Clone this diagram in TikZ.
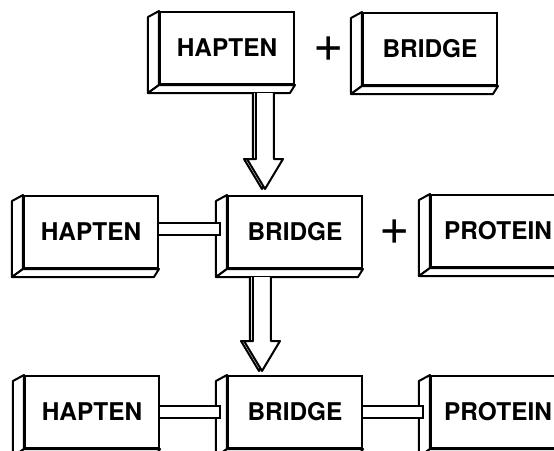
\documentclass[tikz,border=0pt]{standalone}
\usepackage{fontspec}
\setmainfont{TeX Gyre Heros}
\usetikzlibrary{calc}

\tikzset{
  block/.style = {draw, fill=white, line width=1pt, minimum width=67pt, minimum height=36pt,
                  inner sep=0pt, font=\fontsize{12.2}{13}\selectfont\bfseries},
  face/.style  = {draw, fill=white, line width=1pt, line join=round},
  rod/.style   = {line width=1pt},
  plus/.style  = {font=\fontsize{26}{26}\selectfont, inner sep=0pt},
}

\begin{document}
\begin{tikzpicture}[x=0.5pt, y=-0.5pt]

    \useasboundingbox (0,0) rectangle (554,451);
    \clip (0,0) rectangle (554,451);

    % row 1
    \node [block] (h1) at (227,48) {HAPTEN};
    \node [plus] (pl1) at (329,49) {+};
    \node [block] (b1) at (430,49) {BRIDGE};

    % row 2
    \node [block] (h2) at (91,232) {HAPTEN};
    \node [block] (b2) at (295,232) {BRIDGE};
    \node [plus] (pl2) at (395,232) {+};
    \node [block] (p2) at (498,231) {PROTEIN};

    % row 3
    \node [block] (h3) at (92,412) {HAPTEN};
    \node [block] (b3) at (295,412) {BRIDGE};
    \node [block] (p3) at (498,412) {PROTEIN};

    % side faces
    \foreach \b in {h1,b1,h2,b2,p2,h3,b3,p3} {
        \draw [face] (\b.north west) -- ([shift={(-11,6)}]\b.north west)
            -- ([shift={(-11,8)}]\b.south west) -- (\b.south west) -- cycle;
        \draw [face] (\b.south west) -- ([shift={(-11,8)}]\b.south west)
            -- ([shift={(-5,8)}]\b.south east) -- (\b.south east) -- cycle;
    }

    % rods
    \foreach \a/\c/\dy in {h2/b2/-3, h3/b3/0, b3/p3/0} {
        \fill [white] ([shift={(0,\dy-6)}]\a.east) rectangle ([shift={(-7,\dy+6)}]\c.west);
        \draw [rod] ([shift={(0,\dy-6)}]\a.east) -| ([shift={(-7,\dy+6)}]\c.west)
            -- ([shift={(0,\dy+6)}]\a.east);
    }

    % arrows
    \coordinate (a1) at ($(h1.south east)+(-30,8)$);
    \coordinate (a2) at ($(b2.south west)+(35,8)$);
    \foreach \t/\l in {a1/96, a2/94} {
        \begin{scope}[shift={(\t)}]
            \draw [face] (-12,0) -- (-12,\l-30) -- (-21,\l-30) -- (-3,\l) -- (15,\l-30) -- (6,\l-30) -- (6,0);
            \draw [face] (-9,0) -- (-9,\l-30) -- (-18,\l-30) -- (0,\l) -- (18,\l-30) -- (9,\l-30) -- (9,0);
        \end{scope}
    }

\end{tikzpicture}
\end{document}
